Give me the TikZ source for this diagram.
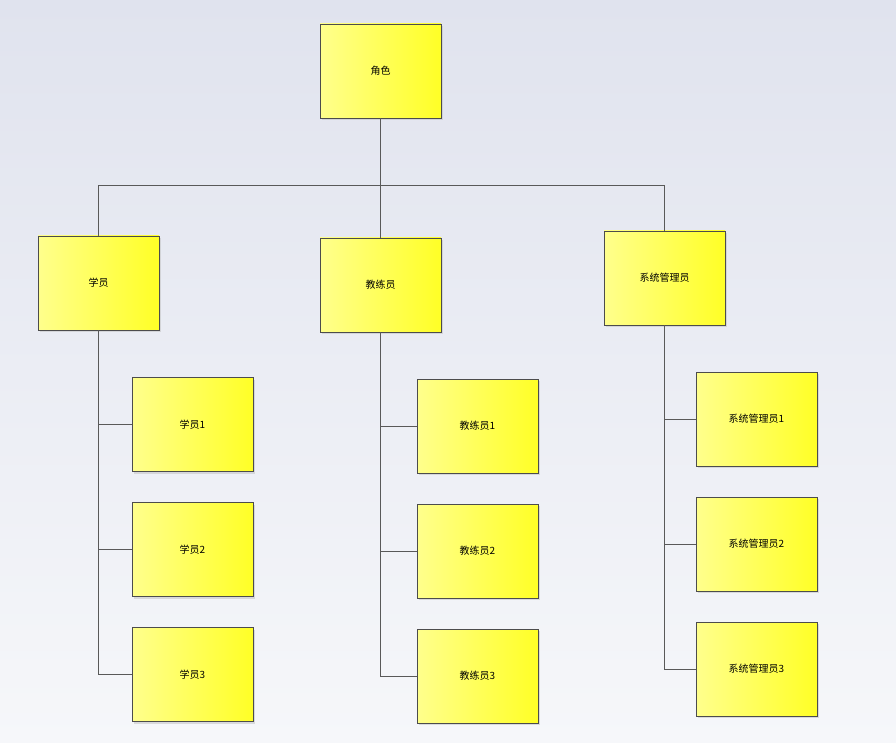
\documentclass[tikz,border=0pt]{standalone}
\usepackage{fontspec}
\setmainfont{Noto Sans CJK SC}
\usetikzlibrary{shadows}
\definecolor{bgtop}{HTML}{E0E3EE}
\definecolor{bgbot}{HTML}{F6F7FA}
\begin{document}
\begin{tikzpicture}[x=1pt,y=-1pt,
  box/.style={draw=black!70,line width=0.6pt,minimum width=121pt,minimum height=94pt,
    left color=yellow!45,right color=yellow!85!white,inner sep=0pt,font=\fontsize{10}{12}\selectfont,
    drop shadow={shadow xshift=2pt,shadow yshift=-2pt,fill=black!25}},
  ln/.style={draw=black!65,line width=0.6pt}]
\shade[top color=bgtop,bottom color=bgbot] (0,0) rectangle (896,743);
\useasboundingbox (0,0) rectangle (896,743);
\node[box] (r) at (380.5,71) {角色};
\node[box] (a) at (98.5,283) {学员};
\node[box] (b) at (380.5,285) {教练员};
\node[box] (c) at (664.5,278) {系统管理员};
\node[box] (a1) at (192.5,424.5) {学员1};
\node[box] (a2) at (192.5,549.5) {学员2};
\node[box] (a3) at (192.5,674.5) {学员3};
\node[box] (b1) at (477.5,426) {教练员1};
\node[box] (b2) at (477.5,551) {教练员2};
\node[box] (b3) at (477.5,676) {教练员3};
\node[box] (c1) at (756.5,419) {系统管理员1};
\node[box] (c2) at (756.5,544) {系统管理员2};
\node[box] (c3) at (756.5,669) {系统管理员3};
\coordinate (j) at (380.5,185);
\draw[ln] (r.south) -- (j);
\draw[ln] (j) -| (a.north);
\draw[ln] (j) -- (b.north);
\draw[ln] (j) -| (c.north);
\foreach \p in {a,b,c}{
  \draw[ln] (\p.south) |- (\p3.west);
  \draw[ln] (\p.south |- \p1.west) -- (\p1.west);
  \draw[ln] (\p.south |- \p2.west) -- (\p2.west);
}
\end{tikzpicture}
\end{document}
